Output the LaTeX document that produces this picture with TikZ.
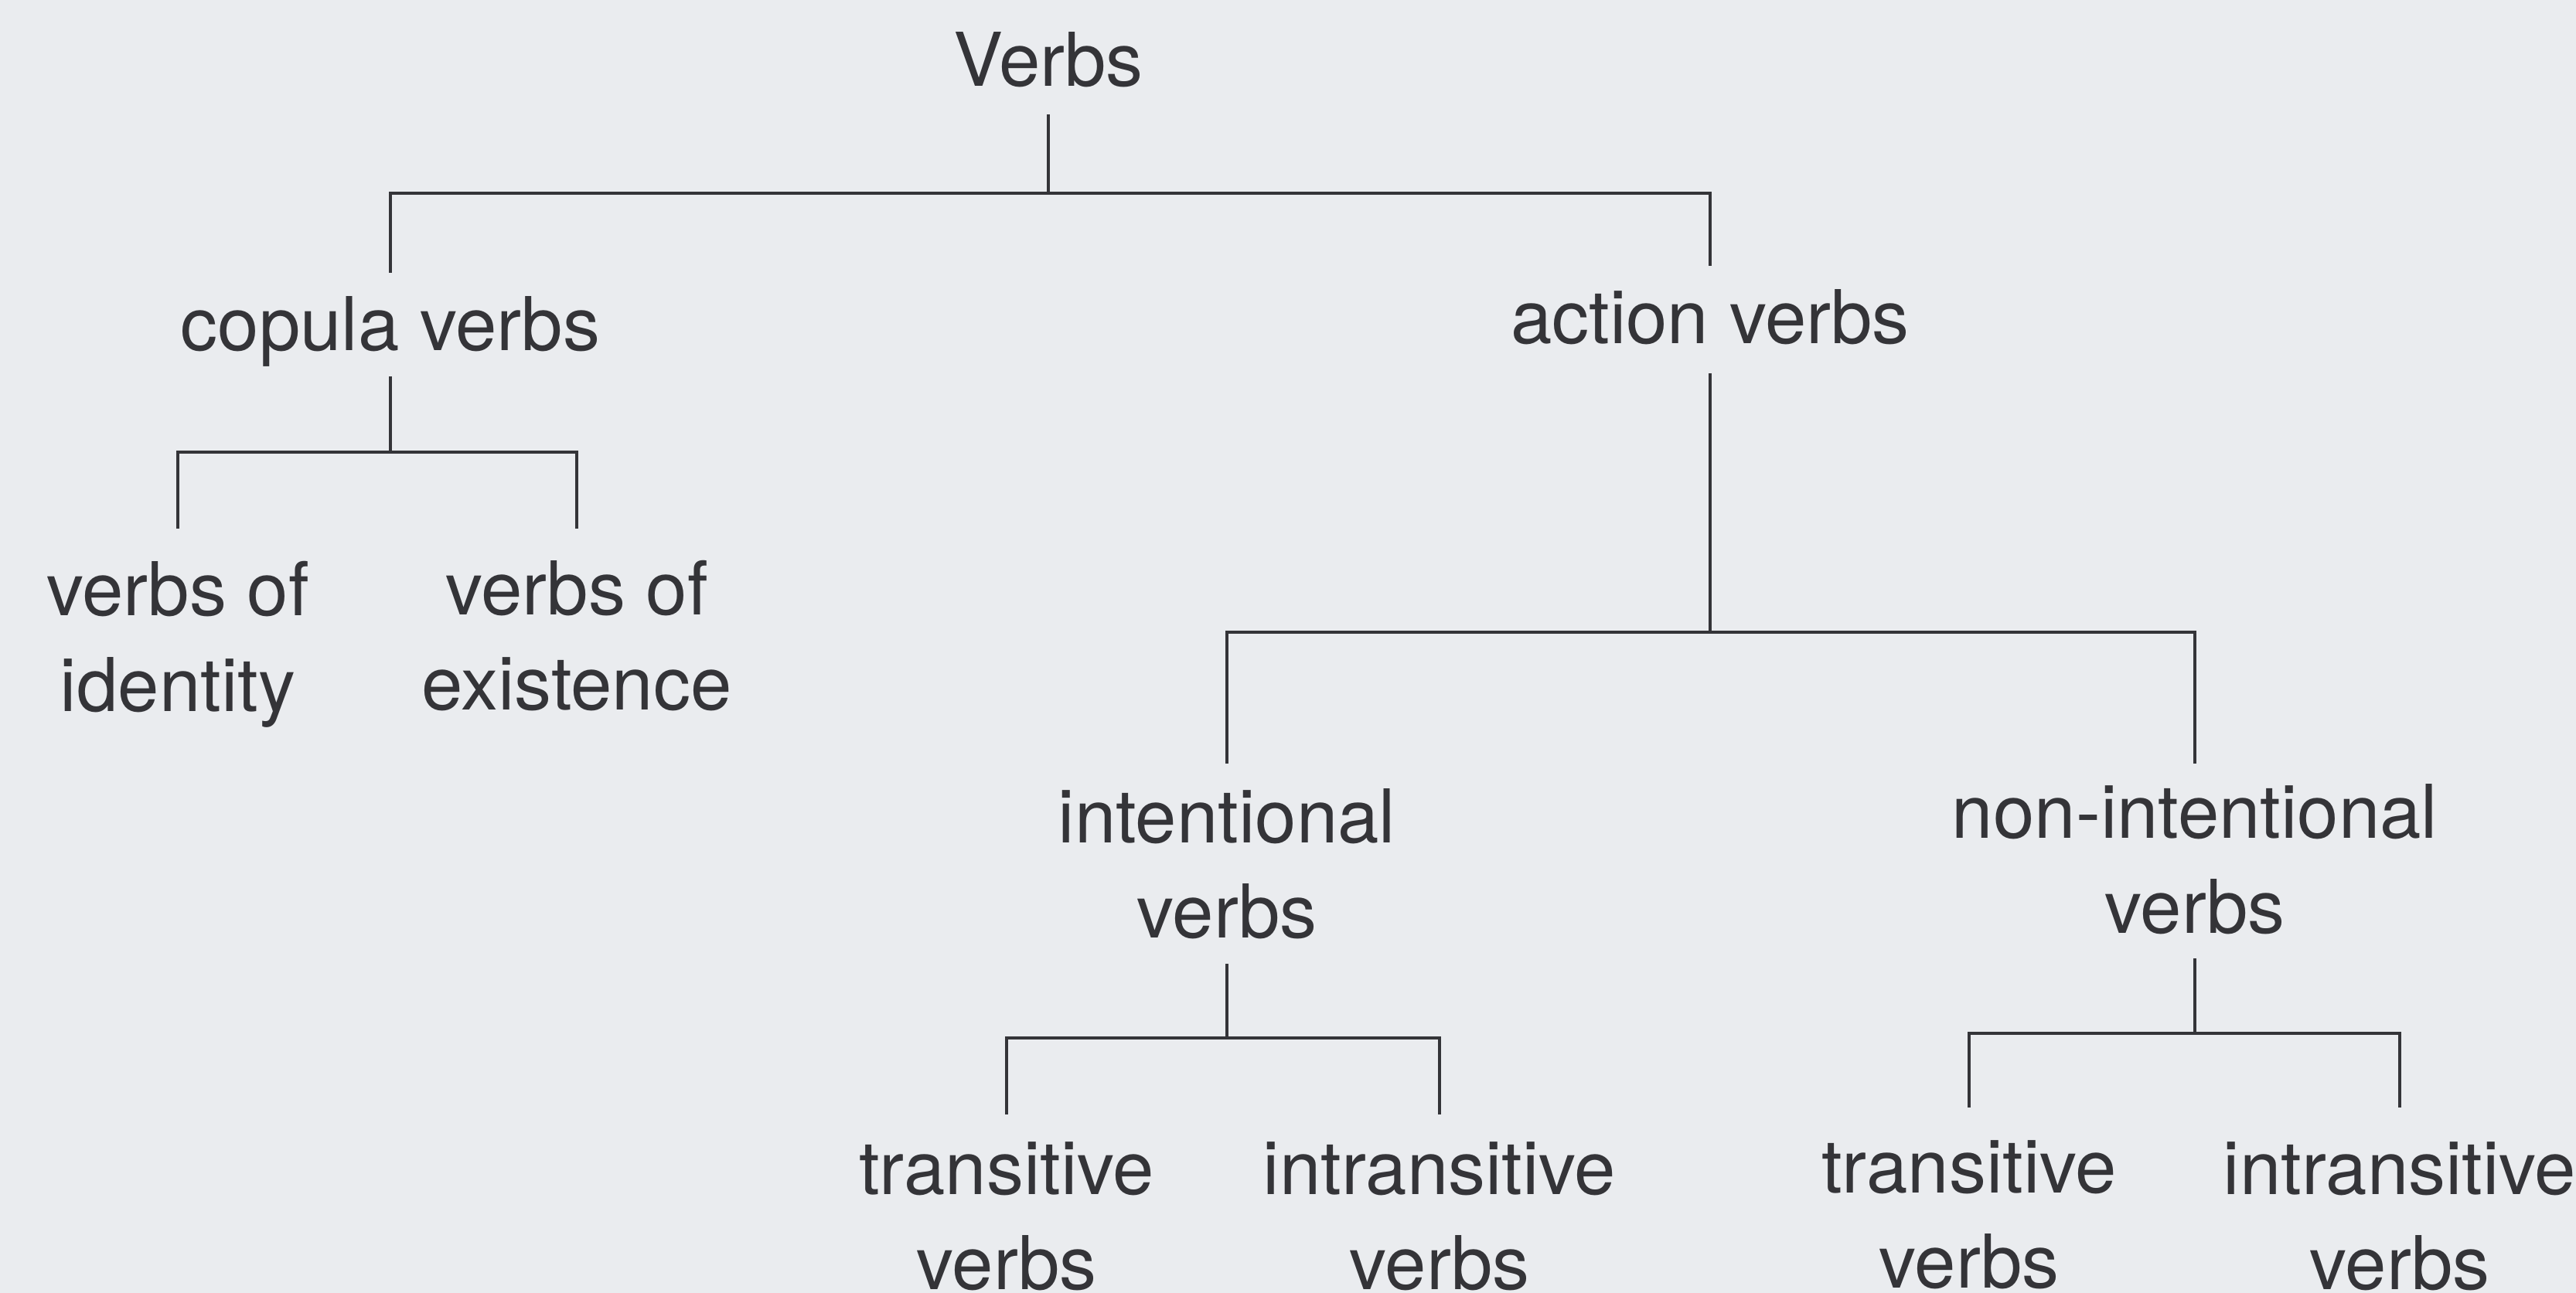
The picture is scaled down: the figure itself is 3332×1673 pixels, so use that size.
\documentclass[tikz,border=0pt]{standalone}
\usepackage{fontspec}
\setmainfont{TeX Gyre Heros}
\definecolor{bgc}{HTML}{EAECEF}
\definecolor{inkc}{HTML}{343438}
\newcommand\twol[2]{\begin{tabular}[t]{@{}c@{}}#1\\#2\end{tabular}}
\tikzset{
  lbl/.style={inner sep=0pt, anchor=base, text=inkc,
    font=\fontsize{27.3}{35}\selectfont},
  conn/.style={draw=inkc, line width=1.3pt, line join=miter}
}
\begin{document}
\begin{tikzpicture}[x=0.01cm,y=-0.01cm]
\useasboundingbox (0,0) rectangle (3332,1673);
\fill[bgc] (0,0) rectangle (3332,1673);
\setlength{\tabcolsep}{0pt}
% nodes
\node[lbl] (root) at (1356,112) {Verbs};
\node[lbl] (cop)  at (505,454)  {copula verbs};
\node[lbl] (act)  at (2212,445) {action verbs};
\node[lbl] (ident) at (230,797) {\twol{verbs of}{identity}};
\node[lbl] (exist) at (746,795) {\twol{verbs of}{existence}};
\node[lbl] (intn) at (1587,1090) {\twol{intentional}{verbs}};
\node[lbl] (nint) at (2839,1084) {\twol{non-intentional}{verbs}};
\node[lbl] (tr1) at (1302,1545) {\twol{transitive}{verbs}};
\node[lbl] (in1) at (1862,1545) {\twol{intransitive}{verbs}};
\node[lbl] (tr2) at (2547,1543) {\twol{transitive}{verbs}};
\node[lbl] (in2) at (3104,1545) {\twol{intransitive}{verbs}};
% junctions
\coordinate (jr) at (root.base |- 0,250);
\coordinate (jc) at (cop.base |- 0,585);
\coordinate (ja) at (act.base |- 0,818);
\coordinate (ji) at (intn.base |- 0,1343);
\coordinate (jn) at (nint.base |- 0,1337);
% connectors
\draw[conn] (root.base |- 0,148) -- (jr);
\draw[conn] (cop.base |- 0,353) |- (jr) -| (act.base |- 0,344);
\draw[conn] (cop.base |- 0,487) -- (jc);
\draw[conn] (ident.base |- 0,684) |- (jc) -| (exist.base |- 0,684);
\draw[conn] (act.base |- 0,483) -- (ja);
\draw[conn] (intn.base |- 0,988) |- (ja) -| (nint.base |- 0,988);
\draw[conn] (intn.base |- 0,1247) -- (ji);
\draw[conn] (tr1.base |- 0,1442) |- (ji) -| (in1.base |- 0,1442);
\draw[conn] (nint.base |- 0,1240) -- (jn);
\draw[conn] (tr2.base |- 0,1433) |- (jn) -| (in2.base |- 0,1433);
\end{tikzpicture}
\end{document}
